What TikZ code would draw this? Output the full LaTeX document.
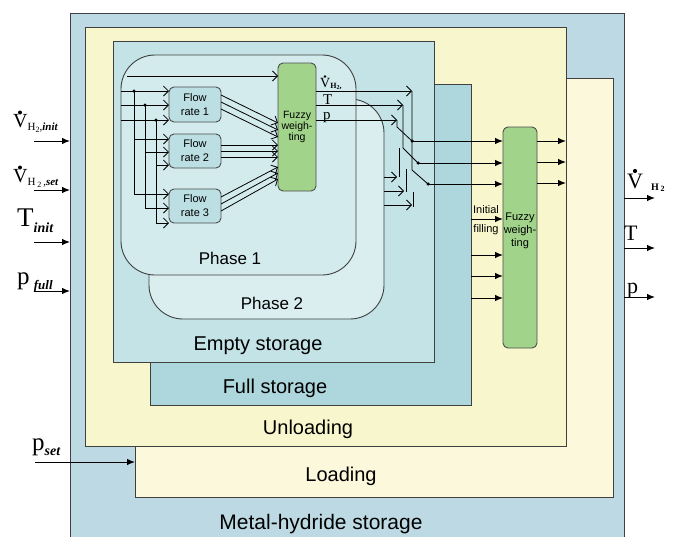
\documentclass[tikz,border=0pt]{standalone}
\usepackage{fontspec}
\setmainfont{Liberation Serif}
\setsansfont{Liberation Sans}
\usetikzlibrary{arrows.meta}
\definecolor{mhblue}{HTML}{BDDAE4}
\definecolor{unlyellow}{HTML}{F8F6CC}
\definecolor{loadyellow}{HTML}{FBF8DB}
\definecolor{fullblue}{HTML}{AED7DD}
\definecolor{emptyblue}{HTML}{C3E3E6}
\definecolor{phtwo}{HTML}{DAEEF0}
\definecolor{phone}{HTML}{D3EBED}
\definecolor{fuzzyg}{HTML}{A1D48A}
\definecolor{flowc}{HTML}{BBDFE3}
\newcommand{\fs}[1]{\fontsize{#1}{#1}\selectfont}
\begin{document}
\begin{tikzpicture}[x=1pt,y=-1pt,
  box/.style={draw=black!75, line width=0.9pt, inner sep=0pt, outer sep=0pt, anchor=north west},
  big/.style={font=\sffamily\fontsize{20}{22}\selectfont},
  ph/.style={font=\sffamily\fontsize{17}{19}\selectfont},
  con/.style={draw=black, line width=1pt, -{Latex[length=8pt,width=6.5pt]}},
  ocon/.style={draw=black, line width=0.8pt, -{Straight Barb[length=5pt,width=10pt]}},
  wire/.style={draw=black, line width=0.8pt},
  jdot/.style={circle, fill=black, inner sep=0pt, minimum size=3.5pt},
  lbl/.style={inner sep=0pt, anchor=base west},
]
\useasboundingbox (0,0) rectangle (683,536);

% containers
\node[box, fill=mhblue, minimum width=554pt, minimum height=540pt] (mh) at (70,13) {};
\node[box, fill=loadyellow, minimum width=478pt, minimum height=419pt] (load) at (135,78) {};
\node[box, fill=unlyellow, minimum width=481pt, minimum height=419pt] (unl) at (85,27) {};
\node[box, fill=fullblue, minimum width=321pt, minimum height=321pt] (full) at (150,84) {};
\node[box, fill=emptyblue, minimum width=321pt, minimum height=321pt] (empty) at (113,41) {};
\node[box, fill=phtwo, rounded corners=34pt, minimum width=235pt, minimum height=220pt] (p2) at (149,99) {};
\node[box, fill=phone, rounded corners=34pt, minimum width=235pt, minimum height=220pt] (p1) at (121,55) {};

% container labels
\node[big, font=\sffamily\fontsize{21}{23}\selectfont] (tmh) at (321,524) {Metal-hydride storage};
\node[big] (tload) at (341,476) {Loading};
\node[big] (tunl) at (308,429) {Unloading};
\node[big] (tfull) at (275,388) {Full storage};
\node[big] (tempty) at (258,346) {Empty storage};
\node[ph] (tp1) at (230,258) {Phase 1};
\node[ph] (tp2) at (272,303) {Phase 2};

% blocks
\node[box, fill=flowc, draw=black!70, rounded corners=5pt, minimum width=52pt, minimum height=35pt, align=center, font=\sffamily\fontsize{11}{14}\selectfont] (fr1) at (169,87) {Flow\\rate 1};
\node[box, fill=flowc, draw=black!70, rounded corners=5pt, minimum width=52pt, minimum height=34pt, align=center, font=\sffamily\fontsize{11}{14}\selectfont] (fr2) at (169,134) {Flow\\rate 2};
\node[box, fill=flowc, draw=black!70, rounded corners=5pt, minimum width=52pt, minimum height=34pt, align=center, font=\sffamily\fontsize{11}{14}\selectfont] (fr3) at (169,189) {Flow\\rate 3};
\node[box, fill=fuzzyg, draw=black!70, rounded corners=5pt, minimum width=38pt, minimum height=128pt, align=center, font=\sffamily\fontsize{10.5}{9}\selectfont] (fz) at (278,63) {Fuzzy\\weigh-\\ting};
\node[box, fill=fuzzyg, draw=black!70, rounded corners=5pt, minimum width=34pt, minimum height=221pt] (bf) at (503,127) {};
\node[align=center, font=\sffamily\fontsize{11}{13}\selectfont, inner sep=0pt] (bft) at (520,231) {Fuzzy\\weigh-\\ting};

% inputs inside phase 1
\draw[ocon] (127,76) -- (fz.west |- 0,76);
\draw[ocon] (p1.west |- 0,91) -- (fr1.west |- 0,91);
\draw[ocon] (p1.west |- 0,105) -- (fr1.west |- 0,105);
\draw[ocon] (p1.west |- 0,120) -- (fr1.west |- 0,120);
\coordinate (v1) at (134,91);
\coordinate (v2) at (145,105);
\coordinate (v3) at (156,120);
\draw[ocon] (v1) -- (134,194) -- (fr3.west |- 0,194);
\draw[ocon] (134,139) -- (fr2.west |- 0,139);
\draw[ocon] (v2) -- (145,208) -- (fr3.west |- 0,208);
\draw[ocon] (145,152) -- (fr2.west |- 0,152);
\draw[ocon] (v3) -- (156,223) -- (fr3.west |- 0,223);
\draw[ocon] (156,165) -- (fr2.west |- 0,165);
\node[jdot] at (v1) {};
\node[jdot] at (v2) {};
\node[jdot] at (v3) {};

% flow rate outputs
\draw[ocon] (fr1.east |- 0,95) -- (fz.west |- 0,123);
\draw[ocon] (fr1.east |- 0,102) -- (fz.west |- 0,130);
\draw[ocon] (fr1.east |- 0,109) -- (fz.west |- 0,137);
\draw[ocon] (fr2.east |- 0,145) -- (fz.west |- 0,145);
\draw[ocon] (fr2.east |- 0,151) -- (fz.west |- 0,151);
\draw[ocon] (fr2.east |- 0,157) -- (fz.west |- 0,157);
\draw[ocon] (fr3.east |- 0,197) -- (fz.west |- 0,167);
\draw[ocon] (fr3.east |- 0,204) -- (fz.west |- 0,173);
\draw[ocon] (fr3.east |- 0,211) -- (fz.west |- 0,179);

% fuzzy outputs to switches
\coordinate (sv) at (412,91);
\coordinate (st) at (403,105);
\coordinate (sp) at (397,120);
\draw[ocon] (fz.east |- sv) -- (sv);
\draw[ocon] (fz.east |- st) -- (st);
\draw[ocon] (fz.east |- sp) -- (sp);
\node[lbl, font=\fs{14}] (lv) at (320,87) {V\raisebox{-1pt}{\fs{8}\bfseries H\raisebox{-1.5pt}{\fs{6}2},}};
\fill (325,76.5) circle (1.4);
\node[lbl, font=\fs{15}] (lt) at (323,104) {T};
\node[lbl, font=\fs{15}] (lp) at (323,119) {p};

% switches
\coordinate (d1) at (412,141);
\coordinate (d2) at (418,163);
\coordinate (d3) at (428,184);
\draw[wire] (sv) -- (412,170) -- (d3);
\draw[wire] (st) -- (403,148) -- (d2);
\draw[wire] (sp) -- (397,127) -- (d1);
\draw[wire] (399,148) -- (399,177);
\draw[wire] (406,169) -- (406,192);
\draw[wire] (413,192) -- (413,207);
\draw[ocon] (p2.east |- 0,177) -- (397,177);
\draw[ocon] (p2.east |- 0,191) -- (404,191);
\draw[ocon] (p2.east |- 0,205) -- (412,205);
\node[jdot] at (d1) {};
\node[jdot] at (d2) {};
\node[jdot] at (d3) {};
\draw[con] (d1) -- (d1 -| bf.west);
\draw[con] (d2) -- (d2 -| bf.west);
\draw[con] (d3) -- (d3 -| bf.west);

% big fuzzy inputs
\draw[con] (full.east |- 0,219) -- (bf.west |- 0,219);
\draw[con] (full.east |- 0,255) -- (bf.west |- 0,255);
\draw[con] (full.east |- 0,276) -- (bf.west |- 0,276);
\draw[con] (full.east |- 0,298) -- (bf.west |- 0,298);
\node[font=\sffamily\fontsize{11}{13}\selectfont, inner sep=0pt] (tinit) at (486,210) {Initial};
\node[font=\sffamily\fontsize{11}{13}\selectfont, inner sep=0pt] (tfill) at (486,230) {filling};

% big fuzzy outputs
\draw[con] (bf.east |- 0,141) -- (unl.east |- 0,141);
\draw[con] (bf.east |- 0,162) -- (unl.east |- 0,162);
\draw[con] (bf.east |- 0,183) -- (unl.east |- 0,183);

% left inputs
\coordinate (i1) at (34,141);
\coordinate (i2) at (34,190);
\coordinate (i3) at (34,242);
\coordinate (i4) at (34,291);
\coordinate (i5) at (35,462);
\draw[con] (i1) -- (i1 -| mh.west);
\draw[con] (i2) -- (i2 -| mh.west);
\draw[con] (i3) -- (i3 -| mh.west);
\draw[con] (i4) -- (i4 -| mh.west);
\draw[con] (i5) -- (i5 -| load.west);
\node[lbl, font=\fs{20}] (l1) at (13,127) {V\raisebox{-3pt}{\fs{11}H\raisebox{-2pt}{\fs{8}2},\bfseries\itshape init}};
\fill (20,112.5) circle (2);
\node[lbl, font=\fs{20}] (l2) at (13,182) {V\raisebox{-3pt}{\fs{11}H\,\raisebox{-2pt}{\fs{8}2}\,,\bfseries\itshape set}};
\fill (20,167.5) circle (2);
\node[lbl, font=\fs{27}] (l3) at (17,226) {T\raisebox{-6pt}{\fs{14}\bfseries\itshape init}};
\node[lbl, font=\fs{25}] (l4) at (17,284) {p\raisebox{-5pt}{\,\fs{13}\bfseries\itshape full}};
\node[lbl, font=\fs{25}] (l5) at (32,450) {p\raisebox{-5pt}{\fs{14}\bfseries\itshape set}};

% right outputs
\coordinate (o1) at (655,198);
\coordinate (o2) at (655,248);
\coordinate (o3) at (655,297);
\draw[con] (o1 -| mh.east) -- (o1);
\draw[con] (o2 -| mh.east) -- (o2);
\draw[con] (o3 -| mh.east) -- (o3);
\node[lbl, font=\fs{22}] (r1) at (627,188) {V\hspace{8pt}\raisebox{-2pt}{\fs{10}\bfseries H\,\raisebox{-1pt}{\fs{8}2}}};
\fill (635,171) circle (2.1);
\node[lbl, font=\fs{22}] (r2) at (624,240) {T};
\node[lbl, font=\fs{22}] (r3) at (627,293) {p};
\end{tikzpicture}
\end{document}
